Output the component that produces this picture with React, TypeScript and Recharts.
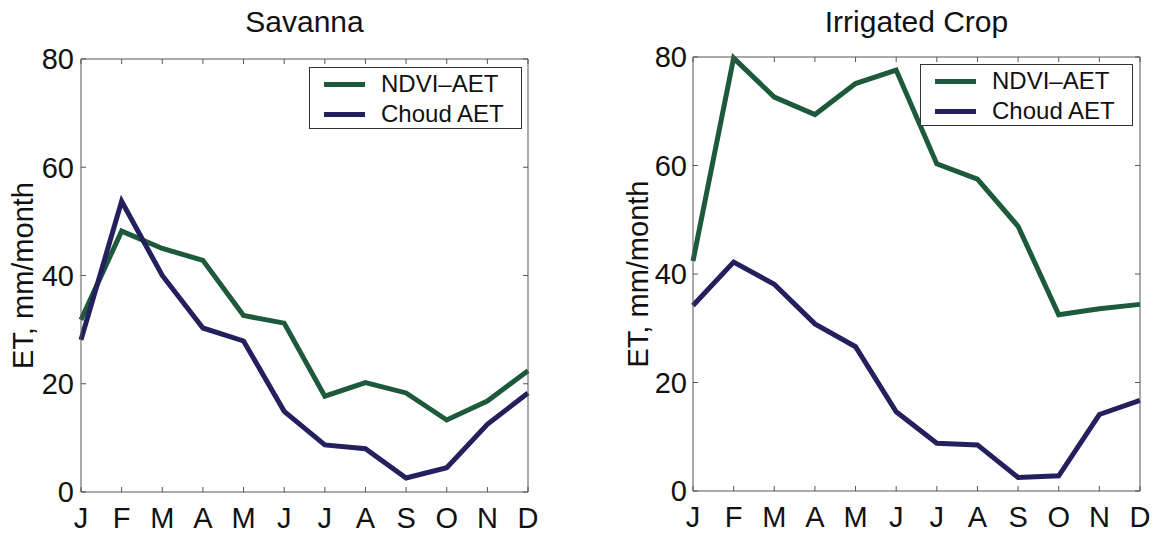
import { LineChart, Line, XAxis, YAxis, Legend } from "recharts";

const months = ["J", "F", "M", "A", "M", "J", "J", "A", "S", "O", "N", "D"];
const yTicks = [0, 20, 40, 60, 80];
const seriesNames = ["NDVI–AET", "Choud AET"];

const savannaNdvi = [31.8, 48.2, 45.0, 42.8, 32.6, 31.2, 17.7, 20.2, 18.3, 13.3, 16.8, 22.4];
const savannaChoud = [28.1, 53.7, 40.0, 30.3, 27.9, 14.9, 8.7, 8.0, 2.6, 4.5, 12.5, 18.3];

const cropNdvi = [42.4, 79.8, 72.6, 69.4, 75.1, 77.6, 60.3, 57.5, 48.8, 32.5, 33.6, 34.4];
const cropChoud = [34.2, 42.2, 38.1, 30.8, 26.6, 14.6, 8.8, 8.5, 2.5, 2.8, 14.1, 16.7];

const FONT = '"Liberation Sans", Arial, Helvetica, sans-serif';
const GREEN = "#1d5a3b";
const NAVY = "#23205d";
const AXIS = "#555";
const TEXT = "#111";
const TICK_LEN = 5;

const monthIdx = months.map((_, i) => i);

function LegendBox(props: any) {
  const items = [...(props.payload || [])].sort(
    (a: any, b: any) => seriesNames.indexOf(a.value) - seriesNames.indexOf(b.value)
  );
  return (
    <div
      style={{
        boxSizing: "border-box",
        width: 213,
        height: 62,
        border: "1px solid #333",
        background: "#fff",
        paddingTop: 1,
        fontFamily: FONT,
        fontSize: 24,
        color: TEXT,
      }}
    >
      {items.map((p: any) => (
        <div key={p.value} style={{ display: "flex", alignItems: "center", height: 30 }}>
          <div style={{ width: 41, height: 5, background: p.color, marginLeft: 14, marginRight: 16 }} />
          <span style={{ lineHeight: "30px" }}>{p.value}</span>
        </div>
      ))}
    </div>
  );
}

interface PanelProps {
  title: string;
  ndvi: number[];
  choud: number[];
  left: number;
  yAxisWidth: number;
  rightMargin: number;
  topMargin: number;
  xAxisHeight: number;
  yTickMargin: number;
  legendLeft: number;
  legendTop: number;
  labelX: number;
}

function Panel(p: PanelProps) {
  const rows = monthIdx.map((i) => ({ i, ndvi: p.ndvi[i], choud: p.choud[i] }));
  const W = 578;
  const H = 533;
  const plotLeft = p.yAxisWidth;
  const plotRight = W - p.rightMargin;
  const plotTop = p.topMargin;
  const plotBottom = H - p.xAxisHeight;

  // tick marks point inward, as in the original figure
  const BottomTick = (t: any) => {
    const cx = t.payload.coordinate;
    return (
      <g>
        <line x1={cx} x2={cx} y1={plotBottom} y2={plotBottom - TICK_LEN} stroke={AXIS} />
        <line x1={cx} x2={cx} y1={plotTop} y2={plotTop + TICK_LEN} stroke={AXIS} />
        <text x={t.x} y={t.y} dy="0.71em" textAnchor="middle" fill={TEXT} fontSize={29} fontFamily={FONT}>
          {months[t.payload.value]}
        </text>
      </g>
    );
  };

  const LeftTick = (t: any) => {
    const cy = t.payload.coordinate;
    return (
      <g>
        <line x1={plotLeft} x2={plotLeft + TICK_LEN} y1={cy} y2={cy} stroke={AXIS} />
        <line x1={plotRight} x2={plotRight - TICK_LEN} y1={cy} y2={cy} stroke={AXIS} />
        <text x={t.x} y={t.y} dy="0.355em" textAnchor="end" fill={TEXT} fontSize={29} fontFamily={FONT}>
          {t.payload.value}
        </text>
      </g>
    );
  };

  return (
    <div style={{ position: "absolute", left: p.left, top: 0, width: W, height: H }}>
      <div
        style={{
          position: "absolute",
          left: plotLeft,
          width: plotRight - plotLeft,
          top: 5,
          textAlign: "center",
          fontFamily: FONT,
          fontSize: 30,
          color: TEXT,
          lineHeight: "34px",
        }}
      >
        {p.title}
      </div>
      <LineChart
        width={W}
        height={H}
        data={rows}
        margin={{ top: p.topMargin - 1, right: p.rightMargin - 1, bottom: 0, left: 0 }}
        style={{ position: "absolute", left: 0, top: 0 }}
      >
        <XAxis
          xAxisId="b"
          dataKey="i"
          type="number"
          domain={[0, 11]}
          ticks={monthIdx}
          interval={0}
          height={p.xAxisHeight}
          tickSize={0}
          tickMargin={15}
          tickLine={false}
          stroke={AXIS}
          tick={BottomTick}
        />
        <XAxis
          xAxisId="t"
          orientation="top"
          dataKey="i"
          type="number"
          domain={[0, 11]}
          ticks={monthIdx}
          interval={0}
          height={1}
          tick={false}
          tickLine={false}
          stroke={AXIS}
        />
        <YAxis
          yAxisId="l"
          type="number"
          domain={[0, 80]}
          ticks={yTicks}
          interval={0}
          width={p.yAxisWidth}
          tickSize={0}
          tickMargin={p.yTickMargin - TICK_LEN}
          tickLine={false}
          stroke={AXIS}
          tick={LeftTick}
          label={{
            content: (lp: any) => {
              const vb = lp.viewBox || {};
              const cx = (vb.x || 0) + p.labelX;
              const cy = (vb.y || 0) + (vb.height || 0) / 2;
              return (
                <text
                  x={cx}
                  y={cy}
                  transform={`rotate(-90 ${cx} ${cy})`}
                  textAnchor="middle"
                  fontFamily={FONT}
                  fontSize={29}
                  fill={TEXT}
                >
                  ET, mm/month
                </text>
              );
            },
          }}
        />
        <YAxis
          yAxisId="r"
          orientation="right"
          type="number"
          domain={[0, 80]}
          ticks={yTicks}
          interval={0}
          width={1}
          tick={false}
          tickLine={false}
          stroke={AXIS}
        />
        <Legend
          content={LegendBox}
          layout="horizontal"
          align="center"
          verticalAlign="middle"
          wrapperStyle={{ left: p.legendLeft, top: p.legendTop, width: 213 }}
        />
        <Line
          xAxisId="b"
          yAxisId="l"
          dataKey="ndvi"
          name={seriesNames[0]}
          stroke={GREEN}
          strokeWidth={5}
          dot={false}
          isAnimationActive={false}
        />
        <Line
          xAxisId="b"
          yAxisId="l"
          dataKey="choud"
          name={seriesNames[1]}
          stroke={NAVY}
          strokeWidth={5}
          dot={false}
          isAnimationActive={false}
        />
      </LineChart>
    </div>
  );
}

export default function App() {
  return (
    <div style={{ position: "absolute", left: 0, top: 0, width: 1156, height: 533, background: "#fff" }}>
      <Panel
        title="Savanna"
        ndvi={savannaNdvi}
        choud={savannaChoud}
        left={0}
        yAxisWidth={81}
        rightMargin={50}
        topMargin={59}
        xAxisHeight={41}
        yTickMargin={12}
        legendLeft={309}
        legendTop={67}
        labelX={33}
      />
      <Panel
        title="Irrigated Crop"
        ndvi={cropNdvi}
        choud={cropChoud}
        left={578}
        yAxisWidth={115}
        rightMargin={16}
        topMargin={57}
        xAxisHeight={42}
        yTickMargin={11}
        legendLeft={342}
        legendTop={64}
        labelX={70}
      />
    </div>
  );
}
